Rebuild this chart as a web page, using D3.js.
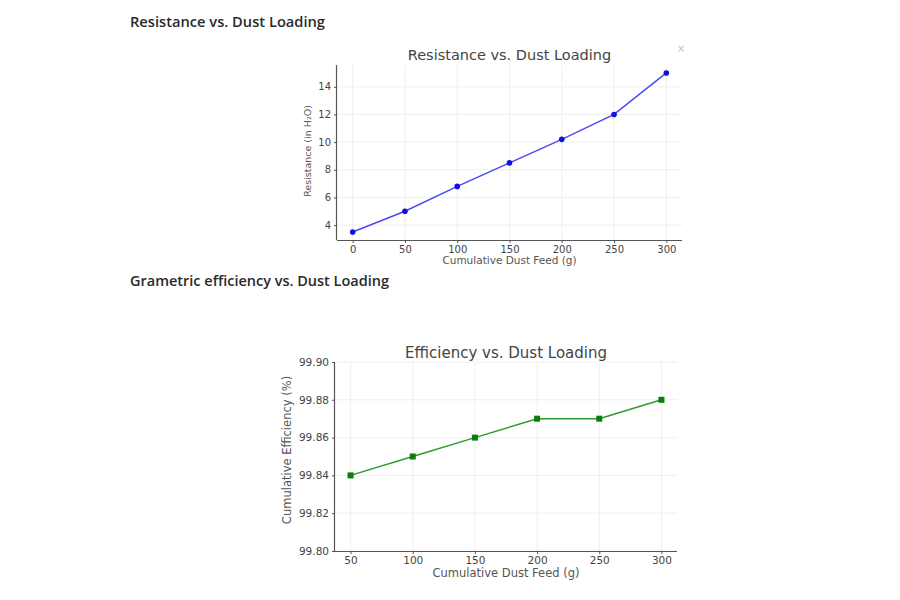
<!DOCTYPE html>
<html>
<head>
<meta charset="utf-8">
<script src="https://cdn.jsdelivr.net/npm/d3@7"></script>
<style>
  html, body { margin: 0; padding: 0; background: #fff; }
  svg { display: block; }
</style>
</head>
<body>
<svg id="chart" width="900" height="600"></svg>
<script>
// ---- Data ----
const dustFeed1 = [0, 50, 100, 150, 200, 250, 300];
const resistance = [3.5, 5.0, 6.8, 8.5, 10.2, 12.0, 15.0];
const resistanceTicks = [4, 6, 8, 10, 12, 14];
const xTicks1 = [0, 50, 100, 150, 200, 250, 300];

const dustFeed2 = [50, 100, 150, 200, 250, 300];
const efficiency = [99.84, 99.85, 99.86, 99.87, 99.87, 99.88];
const efficiencyTicks = [99.80, 99.82, 99.84, 99.86, 99.88, 99.90];
const xTicks2 = [50, 100, 150, 200, 250, 300];

const svg = d3.select("#chart");
const font = "DejaVu Sans, sans-serif";

// Section headings
svg.append("text").attr("x", 130).attr("y", 27)
  .attr("font-family", "Open Sans, sans-serif").attr("font-size", 14).attr("font-weight", 600)
  .attr("fill", "#2a2a2a").attr("textLength", 195).attr("lengthAdjust", "spacingAndGlyphs")
  .text("Resistance vs. Dust Loading");
svg.append("text").attr("x", 130).attr("y", 286)
  .attr("font-family", "Open Sans, sans-serif").attr("font-size", 14).attr("font-weight", 600)
  .attr("fill", "#2a2a2a").attr("textLength", 259).attr("lengthAdjust", "spacingAndGlyphs")
  .text("Grametric efficiency vs. Dust Loading");

// small close icon
svg.append("text").attr("x", 681).attr("y", 52).attr("text-anchor", "middle")
  .attr("font-family", font).attr("font-size", 10).attr("fill", "#aac4e8").text("×");

function drawChart(opt) {
  const g = svg.append("g");
  const x = d3.scaleLinear().domain(opt.xDomain).range([opt.left, opt.right]);
  const y = d3.scaleLinear().domain(opt.yDomain).range([opt.bottom, opt.top]);

  // grid
  g.append("g").selectAll("line").data(opt.xTicks).join("line")
    .attr("x1", d => x(d)).attr("x2", d => x(d))
    .attr("y1", opt.top).attr("y2", opt.bottom)
    .attr("stroke", "#ebebeb").attr("stroke-width", 0.8);
  g.append("g").selectAll("line").data(opt.yTicks).join("line")
    .attr("x1", opt.left).attr("x2", opt.right)
    .attr("y1", d => y(d)).attr("y2", d => y(d))
    .attr("stroke", "#ebebeb").attr("stroke-width", 0.8);

  // axes
  const xAxis = d3.axisBottom(x).tickValues(opt.xTicks).tickSize(3).tickPadding(3).tickFormat(d3.format("d"));
  const yAxis = d3.axisLeft(y).tickValues(opt.yTicks).tickSize(3).tickPadding(3).tickFormat(opt.yFormat);
  const gx = g.append("g").attr("transform", `translate(0,${opt.bottom})`).call(xAxis);
  const gy = g.append("g").attr("transform", `translate(${opt.left},0)`).call(yAxis);
  [gx, gy].forEach(a => {
    a.select(".domain").attr("stroke", "#555").attr("stroke-width", 1.2);
    a.selectAll(".tick line").attr("stroke", "#555");
    a.selectAll(".tick text").attr("font-family", font).attr("font-size", opt.tickSize).attr("fill", "#444");
  });
  gx.select(".domain").attr("d", `M${opt.left},0.5H${opt.right}`);
  gy.select(".domain").attr("d", `M-0.5,${opt.bottom}V${opt.top}`);

  // title and labels
  g.append("text").attr("x", (opt.left + opt.right) / 2).attr("y", opt.titleY)
    .attr("text-anchor", "middle").attr("font-family", font).attr("font-size", opt.titleSize)
    .attr("fill", "#444").text(opt.title);
  g.append("text").attr("x", (opt.left + opt.right) / 2).attr("y", opt.xLabelY)
    .attr("text-anchor", "middle").attr("font-family", font).attr("font-size", opt.xLabelSize)
    .attr("fill", "#555").text(opt.xLabel);
  g.append("text").attr("transform", `translate(${opt.yLabelX},${opt.yLabelCY}) rotate(-90)`)
    .attr("text-anchor", "middle").attr("font-family", font).attr("font-size", opt.yLabelSize)
    .attr("fill", "#555").text(opt.yLabel);

  // line + markers
  const pts = opt.xs.map((d, i) => [d, opt.ys[i]]);
  g.append("path").datum(pts)
    .attr("d", d3.line().x(d => x(d[0])).y(d => y(d[1])))
    .attr("fill", "none").attr("stroke", opt.lineColor).attr("stroke-width", 1.5);
  if (opt.marker === "circle") {
    g.selectAll("circle.m").data(pts).join("circle").attr("class", "m")
      .attr("cx", d => x(d[0])).attr("cy", d => y(d[1])).attr("r", 2.8)
      .attr("fill", opt.markerColor);
  } else {
    g.selectAll("rect.m").data(pts).join("rect").attr("class", "m")
      .attr("x", d => x(d[0]) - 3).attr("y", d => y(d[1]) - 3)
      .attr("width", 6).attr("height", 6).attr("fill", opt.markerColor);
  }
}

drawChart({
  xs: dustFeed1, ys: resistance, xTicks: xTicks1, yTicks: resistanceTicks,
  xDomain: [-15, 315], yDomain: [2.925, 15.575],
  left: 337, right: 682, top: 65, bottom: 240,
  yFormat: d3.format("d"),
  title: "Resistance vs. Dust Loading", xLabel: "Cumulative Dust Feed (g)",
  yLabel: "Resistance (in H\u2082O)", yLabelX: 311, yLabelCY: 151,
  titleY: 60, xLabelY: 264,
  titleSize: 14.5, xLabelSize: 10.5, yLabelSize: 9.5, tickSize: 10,
  lineColor: "#4b4bf5", markerColor: "#1010e0", marker: "circle"
});

drawChart({
  xs: dustFeed2, ys: efficiency, xTicks: xTicks2, yTicks: efficiencyTicks,
  xDomain: [37.5, 312.5], yDomain: [99.80, 99.90],
  left: 335, right: 677, top: 362, bottom: 551,
  yFormat: d3.format(".2f"),
  title: "Efficiency vs. Dust Loading", xLabel: "Cumulative Dust Feed (g)",
  yLabel: "Cumulative Efficiency (%)", yLabelX: 291, yLabelCY: 450,
  titleY: 358, xLabelY: 577,
  titleSize: 15, xLabelSize: 11.5, yLabelSize: 11.5, tickSize: 10.5,
  lineColor: "#2e9a2e", markerColor: "#0a7d0a", marker: "square"
});
</script>
</body>
</html>
